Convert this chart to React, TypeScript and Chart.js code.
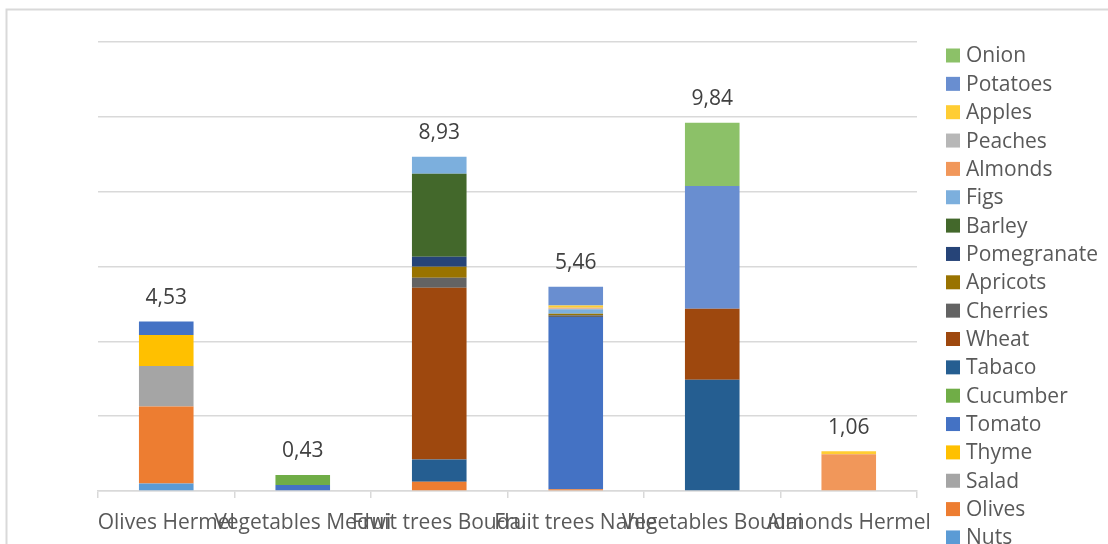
import React, { useEffect, useRef } from "react";
import { Chart, registerables } from "chart.js";

Chart.register(...registerables);

// Categories (x axis)
const categories = [
  "Olives Hermel",
  "Vegetables Medwi",
  "Fruit trees Boudai",
  "Fruit trees Nahle",
  "Vegetables Boudai",
  "Almonds Hermel",
];

// Series values, bottom of stack first
const nuts = [0.2, 0, 0, 0, 0, 0];
const olives = [2.06, 0, 0.25, 0.05, 0, 0];
const salad = [1.08, 0, 0, 0, 0, 0];
const thyme = [0.83, 0, 0, 0, 0, 0];
const tomato = [0.36, 0.16, 0, 4.6, 0, 0];
const cucumber = [0, 0.27, 0, 0, 0, 0];
const tabaco = [0, 0, 0.59, 0, 2.97, 0];
const wheat = [0, 0, 4.59, 0, 1.9, 0];
const cherries = [0, 0, 0.27, 0.05, 0, 0];
const apricots = [0, 0, 0.29, 0.04, 0, 0];
const pomegranate = [0, 0, 0.27, 0, 0, 0];
const barley = [0, 0, 2.22, 0, 0, 0];
const figs = [0, 0, 0.45, 0.12, 0, 0];
const almonds = [0, 0, 0, 0.02, 0, 0.98];
const peaches = [0, 0, 0, 0.02, 0, 0];
const apples = [0, 0, 0, 0.06, 0, 0.08];
const potatoes = [0, 0, 0, 0.5, 3.28, 0];
const onion = [0, 0, 0, 0, 1.69, 0];

const seriesNames = [
  "Nuts", "Olives", "Salad", "Thyme", "Tomato", "Cucumber", "Tabaco", "Wheat",
  "Cherries", "Apricots", "Pomegranate", "Barley", "Figs", "Almonds", "Peaches",
  "Apples", "Potatoes", "Onion",
];
const seriesValues = [
  nuts, olives, salad, thyme, tomato, cucumber, tabaco, wheat,
  cherries, apricots, pomegranate, barley, figs, almonds, peaches,
  apples, potatoes, onion,
];
const seriesColors = [
  "#5B9BD5", "#ED7D31", "#A5A5A5", "#FFC000", "#4472C4", "#70AD47", "#255E91", "#9E480E",
  "#636363", "#997300", "#264478", "#43682B", "#7CAFDD", "#F1975A", "#B7B7B7",
  "#FFCD33", "#698ED0", "#8CC168",
];

// Y axis range
const yMax = 12;
const yStep = 2;

const FONT = "'Open Sans', 'Noto Sans', sans-serif";
const FONT_SIZE = 21;

// Frame around the whole chart
const framePlugin = {
  id: "frame",
  beforeDraw(chart: any) {
    const { ctx, width, height } = chart;
    ctx.save();
    ctx.fillStyle = "#ffffff";
    ctx.fillRect(0, 0, width, height);
    ctx.strokeStyle = "#d9d9d9";
    ctx.lineWidth = 2;
    ctx.strokeRect(6.5, 9.5, width + 10, height + 10);
    ctx.restore();
  },
};

// Stack totals written above each bar
const totalsPlugin = {
  id: "totals",
  afterDatasetsDraw(chart: any) {
    const { ctx } = chart;
    const x = chart.scales.x;
    const y = chart.scales.y;
    ctx.save();
    ctx.font = `${FONT_SIZE}px ${FONT}`;
    ctx.fillStyle = "#404040";
    ctx.textAlign = "center";
    ctx.textBaseline = "middle";
    categories.forEach((_, i) => {
      const total = seriesValues.reduce((s, arr) => s + arr[i], 0);
      const px = x.getPixelForValue(i);
      const py = y.getPixelForValue(total) - 23.5;
      ctx.fillText(total.toFixed(2).replace(".", ","), px, py);
    });
    ctx.restore();
  },
};

// Legend on the right, top item is the last series
const legendPlugin = {
  id: "sideLegend",
  afterDraw(chart: any) {
    const { ctx } = chart;
    const datasets = chart.data.datasets;
    ctx.save();
    ctx.font = `${FONT_SIZE}px ${FONT}`;
    ctx.textAlign = "left";
    ctx.textBaseline = "middle";
    const n = datasets.length;
    for (let k = 0; k < n; k++) {
      const ds = datasets[n - 1 - k];
      const cy = 55.5 + k * 28.35;
      ctx.fillStyle = ds.backgroundColor;
      ctx.fillRect(946, cy - 7, 14, 14);
      ctx.fillStyle = "#595959";
      ctx.fillText(ds.label, 966, cy + 1);
    }
    ctx.restore();
  },
};

export default function App() {
  const canvasRef = useRef<HTMLCanvasElement | null>(null);

  useEffect(() => {
    if (!canvasRef.current) return;
    const chart = new Chart(canvasRef.current, {
      type: "bar",
      data: {
        labels: categories,
        datasets: seriesNames.map((name, i) => ({
          label: name,
          data: seriesValues[i],
          backgroundColor: seriesColors[i],
          borderWidth: 0,
          categoryPercentage: 1,
          barPercentage: 0.4,
        })),
      },
      options: {
        animation: false,
        responsive: false,
        maintainAspectRatio: false,
        layout: { padding: { left: 98, right: 191, top: 42, bottom: 0 } },
        plugins: {
          legend: { display: false },
          tooltip: { enabled: false },
        },
        scales: {
          x: {
            stacked: true,
            grid: {
              display: true,
              drawOnChartArea: false,
              drawTicks: true,
              tickLength: 7,
              color: "#d9d9d9",
              lineWidth: 1.5,
            },
            border: { display: true, color: "#d9d9d9", width: 1.5 },
            ticks: {
              autoSkip: false,
              maxRotation: 0,
              minRotation: 0,
              padding: 12,
              color: "#595959",
              font: { family: FONT, size: FONT_SIZE },
            },
            afterFit(scale: any) {
              scale.height = 53;
            },
          },
          y: {
            stacked: true,
            min: 0,
            max: yMax,
            ticks: { display: false, stepSize: yStep },
            grid: { color: "#d9d9d9", lineWidth: 1.5, drawTicks: false },
            border: { display: false },
            afterFit(scale: any) {
              scale.width = 0;
            },
          },
        },
      },
      plugins: [framePlugin, totalsPlugin, legendPlugin],
    });
    return () => chart.destroy();
  }, []);

  return (
    <div style={{ position: "fixed", left: 0, top: 0, width: 1108, height: 544 }}>
      <canvas ref={canvasRef} width={1108} height={544} style={{ display: "block" }} />
    </div>
  );
}
